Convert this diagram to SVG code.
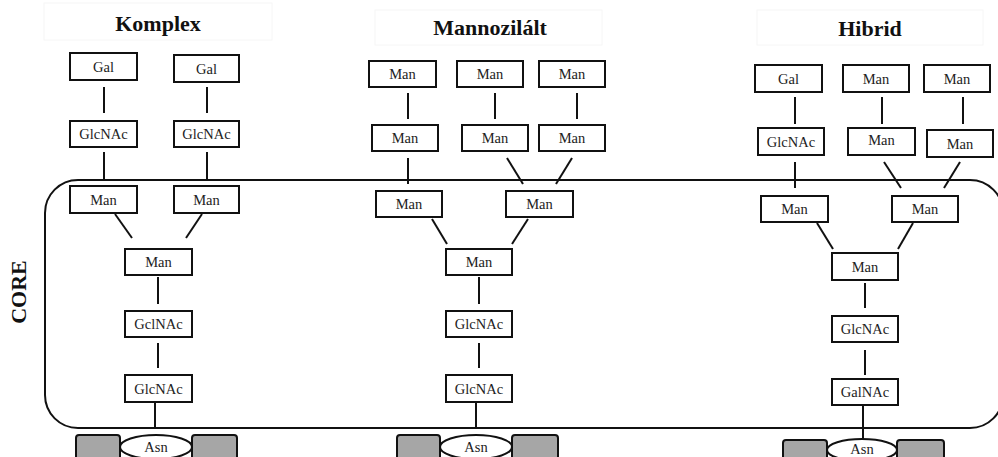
<svg xmlns="http://www.w3.org/2000/svg" width="998" height="457" viewBox="0 0 998 457">
<style>
.box{fill:#fff;stroke:#111;stroke-width:2}
.lbl{font-family:"Liberation Serif","Times New Roman",serif;font-size:14.5px;text-anchor:middle;fill:#222}
.ttl{font-family:"Liberation Serif","Times New Roman",serif;font-size:22px;font-weight:bold;text-anchor:middle;fill:#111}
.tbox{fill:none;stroke:#f6f6f6;stroke-width:1}
.ln{stroke:#111;stroke-width:2;fill:none}
.pep{fill:#a6a6a6;stroke:#111;stroke-width:2}
.asn{fill:#fff;stroke:#111;stroke-width:2}
</style>
<rect width="998" height="457" fill="#fff"/>
<g id="core"><rect x="45" y="180" width="958" height="248" rx="33" ry="33" class="ln"/>
<text class="ttl" transform="translate(26,292) rotate(-90)">CORE</text></g>
<g id="titles">
<rect class="tbox" x="44" y="3" width="228" height="37"/><text class="ttl" x="158" y="31">Komplex</text>
<rect class="tbox" x="375" y="10" width="227" height="35"/><text class="ttl" x="490" y="35">Mannozilált</text>
<rect class="tbox" x="757" y="10" width="226" height="35"/><text class="ttl" x="870" y="36">Hibrid</text>
</g>
<g id="connectors">
<line class="ln" x1="104" y1="87" x2="104" y2="113"/><line class="ln" x1="207" y1="87" x2="207" y2="113"/>
<line class="ln" x1="104" y1="152" x2="104" y2="180"/><line class="ln" x1="207" y1="152" x2="207" y2="180"/>
<line class="ln" x1="115" y1="214" x2="132" y2="238"/><line class="ln" x1="202" y1="214" x2="186" y2="238"/>
<line class="ln" x1="158" y1="277" x2="158" y2="304"/><line class="ln" x1="158" y1="343" x2="158" y2="368"/>
<line class="ln" x1="155" y1="402" x2="155" y2="428"/>
<line class="ln" x1="408" y1="93" x2="408" y2="119"/><line class="ln" x1="495" y1="93" x2="495" y2="119"/><line class="ln" x1="577" y1="93" x2="577" y2="119"/>
<line class="ln" x1="408" y1="158" x2="408" y2="184"/><line class="ln" x1="507" y1="158" x2="523" y2="184"/><line class="ln" x1="572" y1="158" x2="556" y2="184"/>
<line class="ln" x1="432" y1="219" x2="447" y2="244"/><line class="ln" x1="528" y1="219" x2="512" y2="244"/>
<line class="ln" x1="479" y1="277" x2="479" y2="304"/><line class="ln" x1="479" y1="343" x2="479" y2="368"/>
<line class="ln" x1="476" y1="402" x2="476" y2="428"/>
<line class="ln" x1="795" y1="97" x2="795" y2="124"/><line class="ln" x1="882" y1="97" x2="882" y2="124"/><line class="ln" x1="963" y1="97" x2="963" y2="124"/>
<line class="ln" x1="795" y1="162" x2="795" y2="188"/><line class="ln" x1="884" y1="162" x2="901" y2="188"/><line class="ln" x1="960" y1="162" x2="944" y2="188"/>
<line class="ln" x1="817" y1="223" x2="833" y2="249"/><line class="ln" x1="913" y1="223" x2="898" y2="249"/>
<line class="ln" x1="865" y1="283" x2="865" y2="308"/><line class="ln" x1="865" y1="350" x2="865" y2="375"/>
<line class="ln" x1="863" y1="405" x2="863" y2="439"/>
</g>
<g id="k-gal1"><rect class="box" x="70" y="53" width="67" height="27"/><text class="lbl" x="103.5" y="71.5">Gal</text></g>
<g id="k-gal2"><rect class="box" x="174" y="55" width="65" height="27"/><text class="lbl" x="206.5" y="73.5">Gal</text></g>
<g id="k-glc1"><rect class="box" x="70" y="121" width="67" height="26"/><text class="lbl" x="103.5" y="139">GlcNAc</text></g>
<g id="k-glc2"><rect class="box" x="174" y="121" width="65" height="26"/><text class="lbl" x="206.5" y="139">GlcNAc</text></g>
<g id="k-man1"><rect class="box" x="70" y="186" width="67" height="27"/><text class="lbl" x="103.5" y="204.5">Man</text></g>
<g id="k-man2"><rect class="box" x="174" y="186" width="65" height="27"/><text class="lbl" x="206.5" y="204.5">Man</text></g>
<g id="k-man3"><rect class="box" x="125" y="249" width="67" height="26"/><text class="lbl" x="158.5" y="267">Man</text></g>
<g id="k-gcl"><rect class="box" x="125" y="311" width="67" height="26"/><text class="lbl" x="158.5" y="329">GclNAc</text></g>
<g id="k-glc3"><rect class="box" x="125" y="375" width="67" height="27"/><text class="lbl" x="158.5" y="393.5">GlcNAc</text></g>
<g id="k-asn"><rect class="pep" x="76" y="435" width="44" height="26" rx="3"/><rect class="pep" x="192" y="435" width="45" height="26" rx="3"/><ellipse class="asn" cx="156" cy="447" rx="36" ry="12"/><text class="lbl" x="156" y="452">Asn</text></g>
<g id="m-a1"><rect class="box" x="369" y="61" width="67" height="26"/><text class="lbl" x="402.5" y="79">Man</text></g>
<g id="m-b1"><rect class="box" x="457" y="61" width="66" height="26"/><text class="lbl" x="490" y="79">Man</text></g>
<g id="m-c1"><rect class="box" x="539" y="61" width="66" height="26"/><text class="lbl" x="572" y="79">Man</text></g>
<g id="m-a2"><rect class="box" x="372" y="125" width="66" height="26"/><text class="lbl" x="405" y="143">Man</text></g>
<g id="m-b2"><rect class="box" x="462" y="125" width="66" height="26"/><text class="lbl" x="495" y="143">Man</text></g>
<g id="m-c2"><rect class="box" x="539" y="125" width="66" height="26"/><text class="lbl" x="572" y="143">Man</text></g>
<g id="m-a3"><rect class="box" x="376" y="191" width="66" height="26"/><text class="lbl" x="409" y="209">Man</text></g>
<g id="m-b3"><rect class="box" x="506" y="191" width="67" height="26"/><text class="lbl" x="539.5" y="209">Man</text></g>
<g id="m-man"><rect class="box" x="446" y="249" width="66" height="26"/><text class="lbl" x="479" y="267">Man</text></g>
<g id="m-glc1"><rect class="box" x="446" y="311" width="66" height="26"/><text class="lbl" x="479" y="329">GlcNAc</text></g>
<g id="m-glc2"><rect class="box" x="446" y="375" width="66" height="27"/><text class="lbl" x="479" y="393.5">GlcNAc</text></g>
<g id="m-asn"><rect class="pep" x="397" y="435" width="43" height="26" rx="3"/><rect class="pep" x="512" y="435" width="46" height="26" rx="3"/><ellipse class="asn" cx="476" cy="447" rx="36" ry="12"/><text class="lbl" x="476" y="452">Asn</text></g>
<g id="h-gal"><rect class="box" x="755" y="65" width="67" height="27"/><text class="lbl" x="788.5" y="83.5">Gal</text></g>
<g id="h-man1"><rect class="box" x="843" y="65" width="66" height="27"/><text class="lbl" x="876" y="83.5">Man</text></g>
<g id="h-man2"><rect class="box" x="924" y="65" width="66" height="27"/><text class="lbl" x="957" y="83.5">Man</text></g>
<g id="h-glc1"><rect class="box" x="758" y="128" width="66" height="27"/><text class="lbl" x="791" y="146.5">GlcNAc</text></g>
<g id="h-man3"><rect class="box" x="848" y="128" width="67" height="27"/><text class="lbl" x="881.5" y="145">Man</text></g>
<g id="h-man4"><rect class="box" x="927" y="130" width="66" height="27"/><text class="lbl" x="960" y="148.5">Man</text></g>
<g id="h-man5"><rect class="box" x="761" y="196" width="67" height="26"/><text class="lbl" x="794.5" y="214">Man</text></g>
<g id="h-man6"><rect class="box" x="892" y="196" width="66" height="26"/><text class="lbl" x="925" y="214">Man</text></g>
<g id="h-man7"><rect class="box" x="832" y="253" width="66" height="27"/><text class="lbl" x="865" y="271.5">Man</text></g>
<g id="h-glc2"><rect class="box" x="832" y="316" width="66" height="26"/><text class="lbl" x="865" y="334">GlcNAc</text></g>
<g id="h-gal2"><rect class="box" x="832" y="379" width="66" height="26"/><text class="lbl" x="865" y="397">GalNAc</text></g>
<g id="h-asn"><rect class="pep" x="783" y="440" width="44" height="26" rx="3"/><rect class="pep" x="897" y="440" width="47" height="26" rx="3"/><ellipse class="asn" cx="862" cy="450" rx="35" ry="11"/><text class="lbl" x="862" y="454">Asn</text></g>
</svg>
